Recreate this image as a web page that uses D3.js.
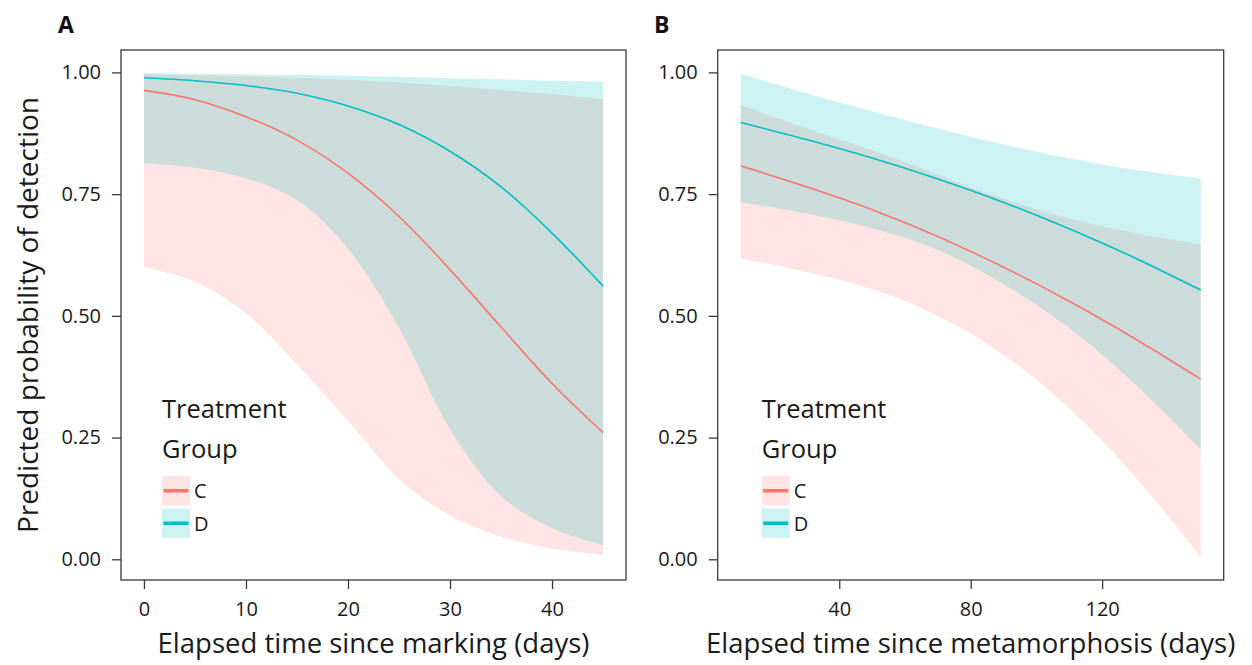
<!DOCTYPE html>
<html>
<head>
<meta charset="utf-8">
<script src="https://cdn.jsdelivr.net/npm/d3@7"></script>
<style>
	body { margin: 0; background: #fff; }
	svg { display: block; font-family: "Open Sans", sans-serif; }
</style>
</head>
<body>
<div id="chart"></div>
<script>
// ===== data =====
const groups = ['C', 'D'];
const groupColors = ['#F8766D', '#00BFC4'];

// panel A : days since marking
const daysA = [0, 5, 10, 15, 20, 25, 30, 35, 40, 45];
const fitA_C = [0.963, 0.944, 0.909, 0.861, 0.793, 0.704, 0.595, 0.477, 0.361, 0.26];
const lowA_C = [0.601, 0.57, 0.505, 0.40, 0.285, 0.165, 0.09, 0.047, 0.022, 0.009];
const uppA_C = [0.996, 0.994, 0.992, 0.989, 0.985, 0.979, 0.972, 0.964, 0.955, 0.945];
const fitA_D = [0.989, 0.983, 0.973, 0.957, 0.931, 0.893, 0.838, 0.765, 0.67, 0.561];
const lowA_D = [0.814, 0.804, 0.782, 0.738, 0.638, 0.475, 0.267, 0.13, 0.064, 0.029];
const uppA_D = [0.998, 0.997, 0.996, 0.995, 0.993, 0.991, 0.988, 0.986, 0.983, 0.981];

// panel B : days since metamorphosis
const daysB = [10, 30, 50, 70, 90, 110, 130, 150];
const fitB_C = [0.808, 0.765, 0.718, 0.663, 0.60, 0.53, 0.453, 0.37];
const lowB_C = [0.618, 0.59, 0.555, 0.50, 0.42, 0.31, 0.17, 0.005];
const uppB_C = [0.933, 0.885, 0.84, 0.79, 0.74, 0.70, 0.67, 0.647];
const fitB_D = [0.897, 0.862, 0.824, 0.781, 0.733, 0.679, 0.619, 0.553];
const lowB_D = [0.734, 0.71, 0.68, 0.635, 0.565, 0.475, 0.36, 0.226];
const uppB_D = [0.997, 0.957, 0.92, 0.885, 0.852, 0.823, 0.80, 0.782];

const yTicks = [0, 0.25, 0.5, 0.75, 1];
const xTicksA = [0, 10, 20, 30, 40];
const xTicksB = [40, 80, 120];

const yTitle = 'Predicted probability of detection';
const xTitleA = 'Elapsed time since marking (days)';
const xTitleB = 'Elapsed time since metamorphosis (days)';
const legendTitle = ['Treatment', 'Group'];

// ===== svg =====
const width = 1252, height = 665;
const svg = d3.select('#chart').append('svg')
	.attr('width', width)
	.attr('height', height);

const plotTop = 50, plotBottom = 580;
const y = d3.scaleLinear().domain([-0.0425, 1.046]).range([plotBottom, plotTop]);

function series(days, fit, low, upp) {
	return days.map((d, i) => ({ x: d, fit: fit[i], low: low[i], upp: upp[i] }));
}

function drawPanel(p) {
	const x = d3.scaleLinear().domain(p.xDomain).range([p.left, p.right]);
	const g = svg.append('g');
	const curve = d3.curveCatmullRom.alpha(0.5);

	const area = d3.area()
		.curve(curve)
		.x(d => x(d.x))
		.y0(d => y(d.low))
		.y1(d => y(d.upp));
	const line = d3.line()
		.curve(curve)
		.x(d => x(d.x))
		.y(d => y(d.fit));

	// ribbons first, then lines (like ggplot layers)
	p.data.forEach((s, i) => {
		g.append('path')
			.attr('d', area(s))
			.attr('fill', groupColors[i])
			.attr('fill-opacity', 0.2);
	});
	p.data.forEach((s, i) => {
		g.append('path')
			.attr('d', line(s))
			.attr('fill', 'none')
			.attr('stroke', groupColors[i])
			.attr('stroke-width', 1.6);
	});

	// panel border
	g.append('rect')
		.attr('x', p.left).attr('y', plotTop)
		.attr('width', p.right - p.left).attr('height', plotBottom - plotTop)
		.attr('fill', 'none')
		.attr('stroke', '#3a3a3a')
		.attr('stroke-width', 1.3);

	// axes
	const yAxis = g.append('g')
		.attr('transform', `translate(${p.left},0)`)
		.call(d3.axisLeft(y).tickValues(yTicks).tickFormat(d3.format('.2f')).tickSize(9).tickPadding(11));
	const xAxis = g.append('g')
		.attr('transform', `translate(0,${plotBottom})`)
		.call(d3.axisBottom(x).tickValues(p.xTicks).tickFormat(d3.format('d')).tickSize(9).tickPadding(13));
	[yAxis, xAxis].forEach(a => {
		a.select('.domain').remove();
		a.selectAll('line').attr('stroke', '#3a3a3a').attr('stroke-width', 1.3);
		a.selectAll('text')
			.attr('fill', '#1a1a1a')
			.attr('font-size', 20)
			.attr('font-family', '"Open Sans", sans-serif');
	});

	// x title
	g.append('text')
		.attr('x', (p.left + p.right) / 2)
		.attr('y', 653)
		.attr('text-anchor', 'middle')
		.attr('font-size', 27.5)
		.attr('fill', '#1a1a1a')
		.text(p.xTitle);

	// panel tag
	g.append('text')
		.attr('x', p.tagX)
		.attr('y', 33)
		.attr('font-size', 23)
		.attr('font-weight', 'bold')
		.attr('fill', '#111')
		.text(p.tag);

	// ===== legend =====
	const lx = p.left + p.legendDx;
	const lg = g.append('g');
	legendTitle.forEach((t, i) => {
		lg.append('text')
			.attr('x', lx)
			.attr('y', 418 + i * 40)
			.attr('font-size', 25.5)
			.attr('fill', '#1a1a1a')
			.text(t);
	});
	groups.forEach((name, i) => {
		const ky = 476 + i * 32.5;
		lg.append('rect')
			.attr('x', lx).attr('y', ky)
			.attr('width', 28).attr('height', 29.5)
			.attr('fill', groupColors[i])
			.attr('fill-opacity', 0.2);
		lg.append('line')
			.attr('x1', lx + 1.5).attr('x2', lx + 26.5)
			.attr('y1', ky + 14.75).attr('y2', ky + 14.75)
			.attr('stroke', groupColors[i])
			.attr('stroke-width', 3.5);
		lg.append('text')
			.attr('x', lx + 32)
			.attr('y', ky + 14.75 + 7.5)
			.attr('font-size', 20)
			.attr('fill', '#1a1a1a')
			.text(name);
	});
}

drawPanel({
	tag: 'A', tagX: 58,
	left: 121, right: 626,
	xDomain: [-2.25, 47.25],
	xTicks: xTicksA,
	xTitle: xTitleA,
	legendDx: 41,
	data: [series(daysA, fitA_C, lowA_C, uppA_C), series(daysA, fitA_D, lowA_D, uppA_D)]
});

drawPanel({
	tag: 'B', tagX: 654,
	left: 717.7, right: 1223.7,
	xDomain: [3, 157],
	xTicks: xTicksB,
	xTitle: xTitleB,
	legendDx: 44,
	data: [series(daysB, fitB_C, lowB_C, uppB_C), series(daysB, fitB_D, lowB_D, uppB_D)]
});

// y title (panel A only)
svg.append('text')
	.attr('transform', `translate(38,${(plotTop + plotBottom) / 2}) rotate(-90)`)
	.attr('text-anchor', 'middle')
	.attr('font-size', 28)
	.attr('fill', '#1a1a1a')
	.text(yTitle);
</script>
</body>
</html>
